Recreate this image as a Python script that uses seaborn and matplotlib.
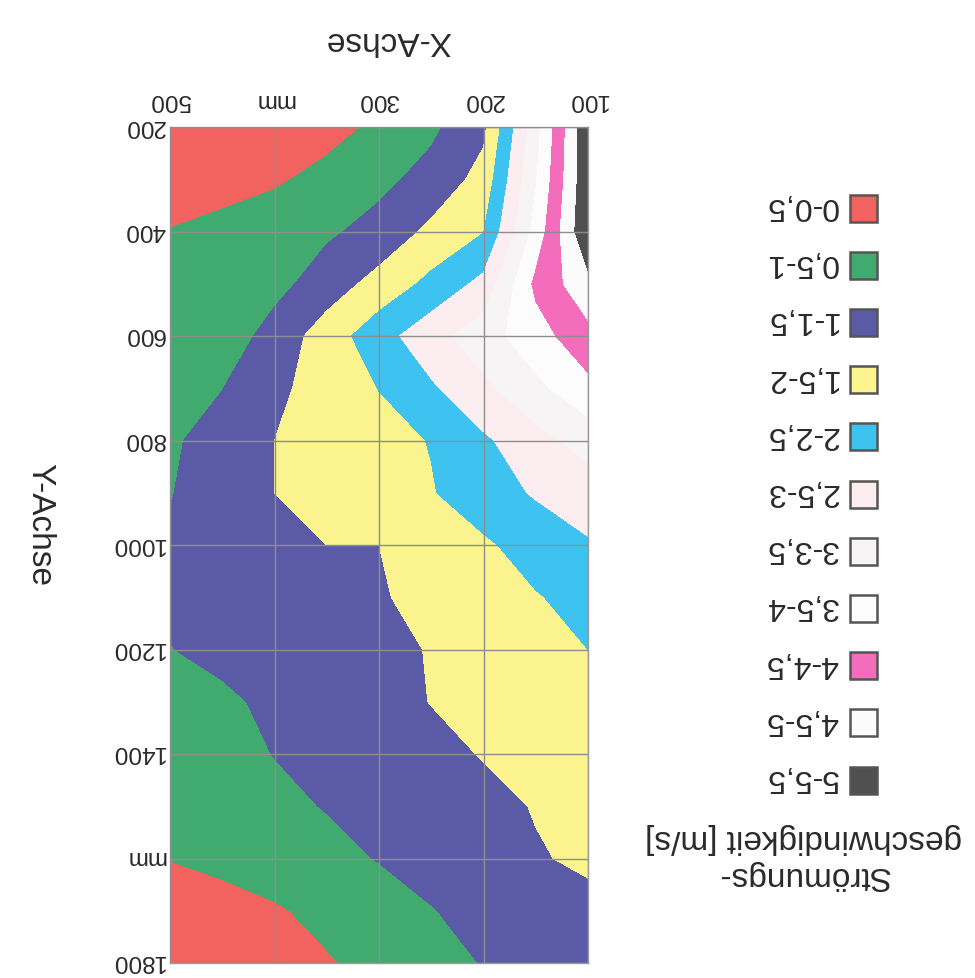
import numpy as np
import matplotlib
matplotlib.use("Agg")
import matplotlib.pyplot as plt
from matplotlib.patches import Rectangle
import seaborn as sns

# ---------------- DATEN ---------------- #
x_mm = [100, 150, 200, 250, 300, 350, 400, 450, 500]
y_mm = [200, 300, 400, 500, 600, 700, 800, 900, 1000,
        1100, 1200, 1300, 1400, 1500, 1600, 1700, 1800]

# Strömungsgeschwindigkeit [m/s], eine Zeile je y, Spalten wie x_mm
v_200 = [5.42, 3.30, 1.39, 0.90, 0.60, 0.32, 0.20, 0.15, 0.10]
v_300 = [5.40, 3.46, 1.67, 1.17, 0.87, 0.65, 0.43, 0.30, 0.20]
v_400 = [5.45, 3.67, 1.98, 1.61, 1.17, 0.92, 0.79, 0.65, 0.52]
v_500 = [4.85, 4.11, 2.64, 2.13, 1.67, 1.25, 0.84, 0.70, 0.60]
v_600 = [4.35, 3.78, 3.29, 2.81, 2.30, 1.73, 1.20, 0.70, 0.60]
v_700 = [3.85, 3.38, 2.89, 2.43, 2.01, 1.71, 1.39, 0.99, 0.80]
v_800 = [3.20, 2.82, 2.42, 2.02, 1.84, 1.67, 1.50, 1.20, 0.93]
v_900 = [2.75, 2.55, 2.26, 1.97, 1.81, 1.66, 1.50, 1.23, 0.98]
v_1000 = [2.45, 2.19, 1.93, 1.72, 1.50, 1.50, 1.50, 1.25, 1.05]
v_1100 = [2.15, 1.97, 1.80, 1.63, 1.46, 1.37, 1.25, 1.15, 1.05]
v_1200 = [2.00, 1.85, 1.70, 1.52, 1.40, 1.30, 1.20, 1.10, 0.99]
v_1300 = [1.90, 1.78, 1.65, 1.51, 1.36, 1.22, 1.08, 0.93, 0.75]
v_1400 = [1.78, 1.65, 1.52, 1.39, 1.26, 1.14, 1.01, 0.85, 0.62]
v_1500 = [1.65, 1.52, 1.39, 1.27, 1.14, 1.02, 0.90, 0.75, 0.60]
v_1600 = [1.56, 1.47, 1.32, 1.17, 1.02, 0.88, 0.74, 0.60, 0.51]
v_1700 = [1.40, 1.28, 1.15, 0.98, 0.79, 0.62, 0.45, 0.35, 0.30]
v_1800 = [1.30, 1.15, 1.02, 0.83, 0.63, 0.46, 0.35, 0.25, 0.20]

levels = [0, 0.5, 1, 1.5, 2, 2.5, 3, 3.5, 4, 4.5, 5, 5.5]
band_labels = ["0-0,5", "0,5-1", "1-1,5", "1,5-2", "2-2,5", "2,5-3",
               "3-3,5", "3,5-4", "4-4,5", "4,5-5", "5-5,5"]
band_colors = ["#f2625f", "#41ab6f", "#5b5aa6", "#faf38e", "#3ec3f1", "#fcedf1",
               "#f7f4f6", "#fdfcfd", "#f46dbd", "#fbfbfb", "#505050"]

x_ticks = [100, 200, 300, 400, 500]
x_ticklabels = ["100", "200", "300", "mm", "500"]
y_ticks = [200, 400, 600, 800, 1000, 1200, 1400, 1600, 1800]
y_ticklabels = ["200", "400", "600", "800", "1000", "1200", "1400", "mm", "1800"]

# ---------------- PLOT ---------------- #
sns.set_theme(style="white")
plt.rcParams["font.family"] = ["Liberation Sans", "DejaVu Sans"]
txt_col = "#2a2a2a"

W, H = 975, 979
fig = plt.figure(figsize=(W / 100, H / 100), dpi=100)
fig.patch.set_facecolor("white")

# Achsen in Pixeln: links 170, rechts 588, oben 128, unten 964
ax_w, ax_h = 418, 836
ax = fig.add_axes([170 / W, (H - 964) / H, ax_w / W, ax_h / H])

Z = np.array([v_200, v_300, v_400, v_500, v_600, v_700, v_800, v_900, v_1000,
              v_1100, v_1200, v_1300, v_1400, v_1500, v_1600, v_1700, v_1800])
ax.contourf(x_mm, y_mm, Z, levels=levels, colors=band_colors, zorder=1)

# Bild steht auf dem Kopf: beide Achsen umgekehrt
ax.set_xlim(500, 100)
ax.set_ylim(1800, 200)
ax.xaxis.tick_top()
ax.set_xticks(x_ticks)
ax.set_xticklabels(x_ticklabels, rotation=180)
ax.set_yticks(y_ticks)
ax.set_yticklabels([])
ax.tick_params(axis="x", length=0, pad=12, labelsize=17.5, labelcolor=txt_col)
ax.tick_params(axis="y", length=0)

# y-Beschriftung von Hand, damit die gedrehten Ziffern mittig sitzen
for yv, lab in zip(y_ticks, y_ticklabels):
    ax.text(-5 / ax_w, yv, lab, transform=ax.get_yaxis_transform(), rotation=180,
            rotation_mode="anchor", ha="left", va="center_baseline",
            fontsize=17.5, color=txt_col, clip_on=False)

ax.set_axisbelow(False)
ax.grid(True, color="#8e8e8e", linewidth=1.0)
for sp in ax.spines.values():
    sp.set_color("#9a9a9a")
    sp.set_linewidth(1.0)

# Achsentitel
fig.text(388 / W, 1 - 41 / H, "X-Achse", rotation=180, ha="center", va="center",
         fontsize=24, color=txt_col)
fig.text(40 / W, 1 - 525 / H, "Y-Achse", rotation=270, ha="center", va="center",
         fontsize=24, color=txt_col)

# Legende (manuell, gedreht)
for i, (lab, col) in enumerate(zip(band_labels, band_colors)):
    cy = 209 + 57.2 * i
    fig.patches.append(Rectangle(((863 - 13.5) / W, 1 - (cy + 13.5) / H), 27 / W, 27 / H,
                                 transform=fig.transFigure, facecolor=col,
                                 edgecolor="#555555", linewidth=1.8))
    fig.text(838 / W, 1 - (cy - 3) / H, lab, rotation=180, ha="right", va="center",
             fontsize=23, color=txt_col)

fig.text(803 / W, 1 - 857 / H, "Strömungs-\ngeschwindigkeit [m/s]", rotation=180,
         ha="center", va="center", multialignment="center", linespacing=1.25,
         fontsize=24, color=txt_col)

fig.savefig("out.png", dpi=100)
